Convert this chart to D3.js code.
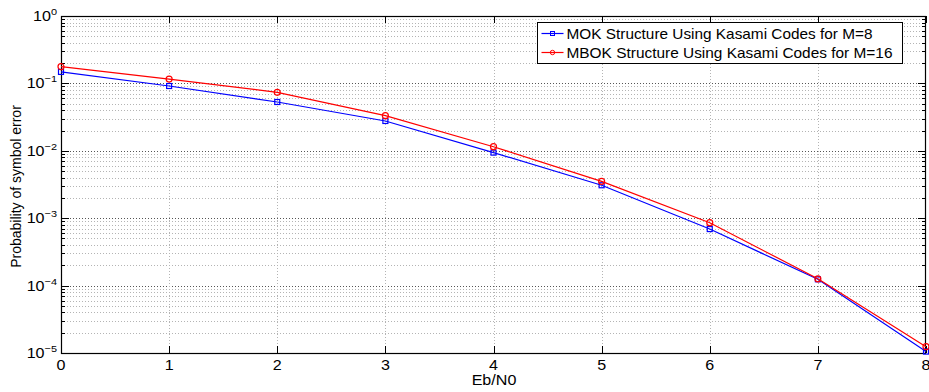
<!DOCTYPE html>
<html>
<head>
<meta charset="utf-8">
<script src="https://cdn.jsdelivr.net/npm/d3@7"></script>
<style>
  body { margin: 0; background: #fff; }
  svg { display: block; }
</style>
</head>
<body>
<svg id="chart" width="929" height="392"></svg>
<script>
const ebN0 = [0, 1, 2, 3, 4, 5, 6, 7, 8];
const mokM8 = [0.148, 0.0915, 0.053, 0.0277, 0.0094, 0.00308, 0.00069, 0.000124, 0.0000105];
const mbokM16 = [0.177, 0.116, 0.0738, 0.0332, 0.0115, 0.00352, 0.000857, 0.000126, 0.0000124];
const xTicks = [0, 1, 2, 3, 4, 5, 6, 7, 8];
const yExponents = [0, -1, -2, -3, -4, -5];
const seriesNames = ["MOK Structure Using Kasami Codes for M=8", "MBOK Structure Using Kasami Codes for M=16"];

const width = 929, height = 392;
const margin = { top: 16, right: 3, bottom: 39, left: 61 };
const chartWidth = width - margin.left - margin.right;
const chartHeight = height - margin.top - margin.bottom;
const font = "Liberation Sans, Arial, sans-serif";
const stretch = 1.15; // the original figure text is a bit wider than Arial

const x = d3.scaleLinear().domain([0, 8]).range([0, chartWidth]);
const y = d3.scaleLog().domain([1e-5, 1]).range([chartHeight, 0]);

const svg = d3.select("#chart");
svg.append("rect").attr("width", width).attr("height", height).attr("fill", "#fff");

const g = svg.append("g").attr("transform", `translate(${margin.left},${margin.top})`);

// minor values 2..9 x 10^k
const minor = [];
for (let k = -5; k < 0; k++) for (let m = 2; m <= 9; m++) minor.push(m * Math.pow(10, k));

const grid = g.append("g").attr("id", "grid");
grid.selectAll("line.minor")
  .data(minor)
  .join("line")
  .attr("x1", 0).attr("x2", chartWidth)
  .attr("y1", (d) => Math.round(y(d)) + 0.5).attr("y2", (d) => Math.round(y(d)) + 0.5)
  .attr("stroke", "#b4b4b4").attr("stroke-dasharray", "1,2");
grid.selectAll("line.major")
  .data(yExponents.slice(1, -1))
  .join("line")
  .attr("x1", 0).attr("x2", chartWidth)
  .attr("y1", (d) => Math.round(y(Math.pow(10, d))) + 0.5).attr("y2", (d) => Math.round(y(Math.pow(10, d))) + 0.5)
  .attr("stroke", "#555").attr("stroke-dasharray", "1,2");
grid.append("g").selectAll("line")
  .data(xTicks.slice(1, -1))
  .join("line")
  .attr("x1", (d) => Math.round(x(d)) + 0.5).attr("x2", (d) => Math.round(x(d)) + 0.5)
  .attr("y1", 0).attr("y2", chartHeight)
  .attr("stroke", "#b4b4b4").attr("stroke-dasharray", "1,2");

// ticks (inward, on all four sides)
const ticks = g.append("g").attr("stroke", "#000").attr("stroke-width", 1);
xTicks.forEach((d) => {
  const px = Math.round(x(d)) + 0.5;
  ticks.append("line").attr("x1", px).attr("x2", px).attr("y1", chartHeight).attr("y2", chartHeight - 7);
  ticks.append("line").attr("x1", px).attr("x2", px).attr("y1", 0).attr("y2", 7);
});
yExponents.forEach((e) => {
  const py = Math.round(y(Math.pow(10, e))) + 0.5;
  ticks.append("line").attr("x1", 0).attr("x2", 8).attr("y1", py).attr("y2", py);
  ticks.append("line").attr("x1", chartWidth).attr("x2", chartWidth - 8).attr("y1", py).attr("y2", py);
});
minor.forEach((d) => {
  const py = Math.round(y(d)) + 0.5;
  ticks.append("line").attr("x1", 0).attr("x2", 4).attr("y1", py).attr("y2", py);
  ticks.append("line").attr("x1", chartWidth).attr("x2", chartWidth - 4).attr("y1", py).attr("y2", py);
});

// frame
g.append("rect")
  .attr("x", 0.5).attr("y", 0.5)
  .attr("width", chartWidth - 1).attr("height", chartHeight)
  .attr("fill", "none").attr("stroke", "#000").attr("stroke-width", 1.2);

// x tick labels
g.append("g").selectAll("text")
  .data(xTicks)
  .join("text")
  .attr("transform", (d) => `translate(${x(d)},${chartHeight + 17}) scale(${stretch},1)`)
  .attr("text-anchor", "middle")
  .attr("font-family", font).attr("font-size", 14)
  .text((d) => d);

// y tick labels 10^e
const yl = g.append("g");
yExponents.forEach((e) => {
  const t = yl.append("text")
    .attr("transform", `translate(-4,${y(Math.pow(10, e)) + 5}) scale(${stretch},1)`)
    .attr("text-anchor", "end")
    .attr("font-family", font).attr("font-size", 14);
  t.append("tspan").text("10");
  t.append("tspan").attr("dy", -6).attr("font-size", 9.5).text(e === 0 ? "0" : "\u2212" + Math.abs(e));
});

// axis titles
svg.append("text")
  .attr("transform", `translate(494,${height - 7}) scale(${stretch},1)`)
  .attr("text-anchor", "middle")
  .attr("font-family", font).attr("font-size", 14)
  .text("Eb/N0");
svg.append("text")
  .attr("transform", `translate(21,${margin.top + chartHeight / 2 + 2}) rotate(-90)`)
  .attr("text-anchor", "middle")
  .attr("font-family", font).attr("font-size", 14)
  .text("Probability of symbol error");

// series
const line = d3.line().x((d, i) => x(ebN0[i])).y((d) => y(d));
const series = [
  { values: mokM8, color: "#0000ff", marker: "square" },
  { values: mbokM16, color: "#ff0000", marker: "circle" },
];
const viz = g.append("g").attr("id", "viz");
series.forEach((s) => {
  viz.append("path").attr("d", line(s.values))
    .attr("fill", "none").attr("stroke", s.color).attr("stroke-width", 1.2);
  const pts = viz.append("g");
  s.values.forEach((v, i) => {
    if (s.marker === "square") {
      pts.append("rect")
        .attr("x", x(ebN0[i]) - 2.5).attr("y", y(v) - 2.5)
        .attr("width", 5).attr("height", 5)
        .attr("fill", "none").attr("stroke", s.color).attr("stroke-width", 1.2);
    } else {
      pts.append("circle")
        .attr("cx", x(ebN0[i])).attr("cy", y(v)).attr("r", 3)
        .attr("fill", "none").attr("stroke", s.color).attr("stroke-width", 1.2);
    }
  });
});

// legend
const legendTextWidths = [306, 326];
const legend = svg.append("g").attr("transform", "translate(537.5,22.5)");
legend.append("rect").attr("width", 365).attr("height", 41)
  .attr("fill", "#fff").attr("stroke", "#000").attr("stroke-width", 1);
series.forEach((s, i) => {
  const ly = 11 + i * 19;
  legend.append("line").attr("x1", 4).attr("x2", 26).attr("y1", ly).attr("y2", ly)
    .attr("stroke", s.color).attr("stroke-width", 1.2);
  if (s.marker === "square") {
    legend.append("rect").attr("x", 13).attr("y", ly - 2).attr("width", 4).attr("height", 4)
      .attr("fill", "none").attr("stroke", s.color);
  } else {
    legend.append("circle").attr("cx", 15).attr("cy", ly).attr("r", 2.2)
      .attr("fill", "none").attr("stroke", s.color);
  }
  legend.append("text").attr("x", 29).attr("y", ly + 5.5)
    .attr("font-family", font).attr("font-size", 15)
    .attr("textLength", legendTextWidths[i]).attr("lengthAdjust", "spacingAndGlyphs")
    .text(seriesNames[i]);
});
</script>
</body>
</html>
